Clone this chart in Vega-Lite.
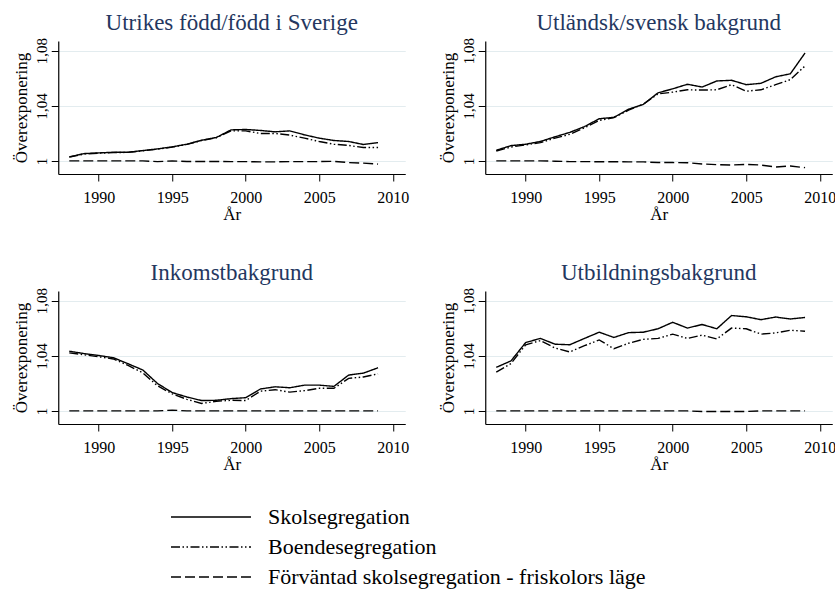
{
"$schema": "https://vega.github.io/schema/vega-lite/v6.json",
"background": "white",
"padding": {"left": 12, "top": 11, "right": 2, "bottom": 0},
"datasets": {
"legend": [
{"series": "Skolsegregation"},
{"series": "Boendesegregation"},
{"series": "Förväntad skolsegregation - friskolors läge"}
],
"main": [
{"panel":"Utrikes född/född i Sverige","series":"Skolsegregation","year":1988,"value":1.0029},
{"panel":"Utrikes född/född i Sverige","series":"Skolsegregation","year":1989,"value":1.0053},
{"panel":"Utrikes född/född i Sverige","series":"Skolsegregation","year":1990,"value":1.0058},
{"panel":"Utrikes född/född i Sverige","series":"Skolsegregation","year":1991,"value":1.0063},
{"panel":"Utrikes född/född i Sverige","series":"Skolsegregation","year":1992,"value":1.0063},
{"panel":"Utrikes född/född i Sverige","series":"Skolsegregation","year":1993,"value":1.0075},
{"panel":"Utrikes född/född i Sverige","series":"Skolsegregation","year":1994,"value":1.0087},
{"panel":"Utrikes född/född i Sverige","series":"Skolsegregation","year":1995,"value":1.0102},
{"panel":"Utrikes född/född i Sverige","series":"Skolsegregation","year":1996,"value":1.0121},
{"panel":"Utrikes född/född i Sverige","series":"Skolsegregation","year":1997,"value":1.015},
{"panel":"Utrikes född/född i Sverige","series":"Skolsegregation","year":1998,"value":1.017},
{"panel":"Utrikes född/född i Sverige","series":"Skolsegregation","year":1999,"value":1.0225},
{"panel":"Utrikes född/född i Sverige","series":"Skolsegregation","year":2000,"value":1.0228},
{"panel":"Utrikes född/född i Sverige","series":"Skolsegregation","year":2001,"value":1.0221},
{"panel":"Utrikes född/född i Sverige","series":"Skolsegregation","year":2002,"value":1.0211},
{"panel":"Utrikes född/född i Sverige","series":"Skolsegregation","year":2003,"value":1.0218},
{"panel":"Utrikes född/född i Sverige","series":"Skolsegregation","year":2004,"value":1.0189},
{"panel":"Utrikes född/född i Sverige","series":"Skolsegregation","year":2005,"value":1.0165},
{"panel":"Utrikes född/född i Sverige","series":"Skolsegregation","year":2006,"value":1.0148},
{"panel":"Utrikes född/född i Sverige","series":"Skolsegregation","year":2007,"value":1.0141},
{"panel":"Utrikes född/född i Sverige","series":"Skolsegregation","year":2008,"value":1.0119},
{"panel":"Utrikes född/född i Sverige","series":"Skolsegregation","year":2009,"value":1.0133},
{"panel":"Utrikes född/född i Sverige","series":"Boendesegregation","year":1988,"value":1.0027},
{"panel":"Utrikes född/född i Sverige","series":"Boendesegregation","year":1989,"value":1.005},
{"panel":"Utrikes född/född i Sverige","series":"Boendesegregation","year":1990,"value":1.0056},
{"panel":"Utrikes född/född i Sverige","series":"Boendesegregation","year":1991,"value":1.006},
{"panel":"Utrikes född/född i Sverige","series":"Boendesegregation","year":1992,"value":1.0062},
{"panel":"Utrikes född/född i Sverige","series":"Boendesegregation","year":1993,"value":1.0073},
{"panel":"Utrikes född/född i Sverige","series":"Boendesegregation","year":1994,"value":1.0085},
{"panel":"Utrikes född/född i Sverige","series":"Boendesegregation","year":1995,"value":1.01},
{"panel":"Utrikes född/född i Sverige","series":"Boendesegregation","year":1996,"value":1.012},
{"panel":"Utrikes född/född i Sverige","series":"Boendesegregation","year":1997,"value":1.0148},
{"panel":"Utrikes född/född i Sverige","series":"Boendesegregation","year":1998,"value":1.0168},
{"panel":"Utrikes född/född i Sverige","series":"Boendesegregation","year":1999,"value":1.0218},
{"panel":"Utrikes född/född i Sverige","series":"Boendesegregation","year":2000,"value":1.0218},
{"panel":"Utrikes född/född i Sverige","series":"Boendesegregation","year":2001,"value":1.0199},
{"panel":"Utrikes född/född i Sverige","series":"Boendesegregation","year":2002,"value":1.0199},
{"panel":"Utrikes född/född i Sverige","series":"Boendesegregation","year":2003,"value":1.0187},
{"panel":"Utrikes född/född i Sverige","series":"Boendesegregation","year":2004,"value":1.0165},
{"panel":"Utrikes född/född i Sverige","series":"Boendesegregation","year":2005,"value":1.0141},
{"panel":"Utrikes född/född i Sverige","series":"Boendesegregation","year":2006,"value":1.0121},
{"panel":"Utrikes född/född i Sverige","series":"Boendesegregation","year":2007,"value":1.0112},
{"panel":"Utrikes född/född i Sverige","series":"Boendesegregation","year":2008,"value":1.0097},
{"panel":"Utrikes född/född i Sverige","series":"Boendesegregation","year":2009,"value":1.0097},
{"panel":"Utrikes född/född i Sverige","series":"Förväntad skolsegregation - friskolors läge","year":1988,"value":1.0},
{"panel":"Utrikes född/född i Sverige","series":"Förväntad skolsegregation - friskolors läge","year":1989,"value":1.0},
{"panel":"Utrikes född/född i Sverige","series":"Förväntad skolsegregation - friskolors läge","year":1990,"value":1.0},
{"panel":"Utrikes född/född i Sverige","series":"Förväntad skolsegregation - friskolors läge","year":1991,"value":1.0},
{"panel":"Utrikes född/född i Sverige","series":"Förväntad skolsegregation - friskolors läge","year":1992,"value":1.0},
{"panel":"Utrikes född/född i Sverige","series":"Förväntad skolsegregation - friskolors läge","year":1993,"value":1.0},
{"panel":"Utrikes född/född i Sverige","series":"Förväntad skolsegregation - friskolors läge","year":1994,"value":0.9995},
{"panel":"Utrikes född/född i Sverige","series":"Förväntad skolsegregation - friskolors läge","year":1995,"value":1.0},
{"panel":"Utrikes född/född i Sverige","series":"Förväntad skolsegregation - friskolors läge","year":1996,"value":0.9996},
{"panel":"Utrikes född/född i Sverige","series":"Förväntad skolsegregation - friskolors läge","year":1997,"value":0.9996},
{"panel":"Utrikes född/född i Sverige","series":"Förväntad skolsegregation - friskolors läge","year":1998,"value":0.9996},
{"panel":"Utrikes född/född i Sverige","series":"Förväntad skolsegregation - friskolors läge","year":1999,"value":0.9995},
{"panel":"Utrikes född/född i Sverige","series":"Förväntad skolsegregation - friskolors läge","year":2000,"value":0.9995},
{"panel":"Utrikes född/född i Sverige","series":"Förväntad skolsegregation - friskolors läge","year":2001,"value":0.9993},
{"panel":"Utrikes född/född i Sverige","series":"Förväntad skolsegregation - friskolors läge","year":2002,"value":0.9993},
{"panel":"Utrikes född/född i Sverige","series":"Förväntad skolsegregation - friskolors läge","year":2003,"value":0.9995},
{"panel":"Utrikes född/född i Sverige","series":"Förväntad skolsegregation - friskolors läge","year":2004,"value":0.9995},
{"panel":"Utrikes född/född i Sverige","series":"Förväntad skolsegregation - friskolors läge","year":2005,"value":0.9995},
{"panel":"Utrikes född/född i Sverige","series":"Förväntad skolsegregation - friskolors läge","year":2006,"value":0.9997},
{"panel":"Utrikes född/född i Sverige","series":"Förväntad skolsegregation - friskolors läge","year":2007,"value":0.9988},
{"panel":"Utrikes född/född i Sverige","series":"Förväntad skolsegregation - friskolors läge","year":2008,"value":0.9984},
{"panel":"Utrikes född/född i Sverige","series":"Förväntad skolsegregation - friskolors läge","year":2009,"value":0.9977},
{"panel":"Utländsk/svensk bakgrund","series":"Skolsegregation","year":1988,"value":1.0077},
{"panel":"Utländsk/svensk bakgrund","series":"Skolsegregation","year":1989,"value":1.0111},
{"panel":"Utländsk/svensk bakgrund","series":"Skolsegregation","year":1990,"value":1.0121},
{"panel":"Utländsk/svensk bakgrund","series":"Skolsegregation","year":1991,"value":1.0141},
{"panel":"Utländsk/svensk bakgrund","series":"Skolsegregation","year":1992,"value":1.0175},
{"panel":"Utländsk/svensk bakgrund","series":"Skolsegregation","year":1993,"value":1.0207},
{"panel":"Utländsk/svensk bakgrund","series":"Skolsegregation","year":1994,"value":1.0249},
{"panel":"Utländsk/svensk bakgrund","series":"Skolsegregation","year":1995,"value":1.0306},
{"panel":"Utländsk/svensk bakgrund","series":"Skolsegregation","year":1996,"value":1.0316},
{"panel":"Utländsk/svensk bakgrund","series":"Skolsegregation","year":1997,"value":1.0375},
{"panel":"Utländsk/svensk bakgrund","series":"Skolsegregation","year":1998,"value":1.041},
{"panel":"Utländsk/svensk bakgrund","series":"Skolsegregation","year":1999,"value":1.0494},
{"panel":"Utländsk/svensk bakgrund","series":"Skolsegregation","year":2000,"value":1.0523},
{"panel":"Utländsk/svensk bakgrund","series":"Skolsegregation","year":2001,"value":1.0556},
{"panel":"Utländsk/svensk bakgrund","series":"Skolsegregation","year":2002,"value":1.0536},
{"panel":"Utländsk/svensk bakgrund","series":"Skolsegregation","year":2003,"value":1.058},
{"panel":"Utländsk/svensk bakgrund","series":"Skolsegregation","year":2004,"value":1.0585},
{"panel":"Utländsk/svensk bakgrund","series":"Skolsegregation","year":2005,"value":1.0553},
{"panel":"Utländsk/svensk bakgrund","series":"Skolsegregation","year":2006,"value":1.0563},
{"panel":"Utländsk/svensk bakgrund","series":"Skolsegregation","year":2007,"value":1.061},
{"panel":"Utländsk/svensk bakgrund","series":"Skolsegregation","year":2008,"value":1.0632},
{"panel":"Utländsk/svensk bakgrund","series":"Skolsegregation","year":2009,"value":1.0783},
{"panel":"Utländsk/svensk bakgrund","series":"Boendesegregation","year":1988,"value":1.0072},
{"panel":"Utländsk/svensk bakgrund","series":"Boendesegregation","year":1989,"value":1.0101},
{"panel":"Utländsk/svensk bakgrund","series":"Boendesegregation","year":1990,"value":1.0116},
{"panel":"Utländsk/svensk bakgrund","series":"Boendesegregation","year":1991,"value":1.0133},
{"panel":"Utländsk/svensk bakgrund","series":"Boendesegregation","year":1992,"value":1.0165},
{"panel":"Utländsk/svensk bakgrund","series":"Boendesegregation","year":1993,"value":1.0193},
{"panel":"Utländsk/svensk bakgrund","series":"Boendesegregation","year":1994,"value":1.024},
{"panel":"Utländsk/svensk bakgrund","series":"Boendesegregation","year":1995,"value":1.0294},
{"panel":"Utländsk/svensk bakgrund","series":"Boendesegregation","year":1996,"value":1.0314},
{"panel":"Utländsk/svensk bakgrund","series":"Boendesegregation","year":1997,"value":1.0368},
{"panel":"Utländsk/svensk bakgrund","series":"Boendesegregation","year":1998,"value":1.0412},
{"panel":"Utländsk/svensk bakgrund","series":"Boendesegregation","year":1999,"value":1.0486},
{"panel":"Utländsk/svensk bakgrund","series":"Boendesegregation","year":2000,"value":1.0499},
{"panel":"Utländsk/svensk bakgrund","series":"Boendesegregation","year":2001,"value":1.0516},
{"panel":"Utländsk/svensk bakgrund","series":"Boendesegregation","year":2002,"value":1.0514},
{"panel":"Utländsk/svensk bakgrund","series":"Boendesegregation","year":2003,"value":1.0516},
{"panel":"Utländsk/svensk bakgrund","series":"Boendesegregation","year":2004,"value":1.0553},
{"panel":"Utländsk/svensk bakgrund","series":"Boendesegregation","year":2005,"value":1.0506},
{"panel":"Utländsk/svensk bakgrund","series":"Boendesegregation","year":2006,"value":1.0516},
{"panel":"Utländsk/svensk bakgrund","series":"Boendesegregation","year":2007,"value":1.0553},
{"panel":"Utländsk/svensk bakgrund","series":"Boendesegregation","year":2008,"value":1.059},
{"panel":"Utländsk/svensk bakgrund","series":"Boendesegregation","year":2009,"value":1.0689},
{"panel":"Utländsk/svensk bakgrund","series":"Förväntad skolsegregation - friskolors läge","year":1988,"value":1.0},
{"panel":"Utländsk/svensk bakgrund","series":"Förväntad skolsegregation - friskolors läge","year":1989,"value":1.0},
{"panel":"Utländsk/svensk bakgrund","series":"Förväntad skolsegregation - friskolors läge","year":1990,"value":1.0},
{"panel":"Utländsk/svensk bakgrund","series":"Förväntad skolsegregation - friskolors läge","year":1991,"value":1.0},
{"panel":"Utländsk/svensk bakgrund","series":"Förväntad skolsegregation - friskolors läge","year":1992,"value":0.9998},
{"panel":"Utländsk/svensk bakgrund","series":"Förväntad skolsegregation - friskolors läge","year":1993,"value":0.9995},
{"panel":"Utländsk/svensk bakgrund","series":"Förväntad skolsegregation - friskolors läge","year":1994,"value":0.9995},
{"panel":"Utländsk/svensk bakgrund","series":"Förväntad skolsegregation - friskolors läge","year":1995,"value":0.9994},
{"panel":"Utländsk/svensk bakgrund","series":"Förväntad skolsegregation - friskolors läge","year":1996,"value":0.9994},
{"panel":"Utländsk/svensk bakgrund","series":"Förväntad skolsegregation - friskolors läge","year":1997,"value":0.9993},
{"panel":"Utländsk/svensk bakgrund","series":"Förväntad skolsegregation - friskolors läge","year":1998,"value":0.9993},
{"panel":"Utländsk/svensk bakgrund","series":"Förväntad skolsegregation - friskolors läge","year":1999,"value":0.9988},
{"panel":"Utländsk/svensk bakgrund","series":"Förväntad skolsegregation - friskolors läge","year":2000,"value":0.9988},
{"panel":"Utländsk/svensk bakgrund","series":"Förväntad skolsegregation - friskolors läge","year":2001,"value":0.9987},
{"panel":"Utländsk/svensk bakgrund","series":"Förväntad skolsegregation - friskolors läge","year":2002,"value":0.9978},
{"panel":"Utländsk/svensk bakgrund","series":"Förväntad skolsegregation - friskolors läge","year":2003,"value":0.9973},
{"panel":"Utländsk/svensk bakgrund","series":"Förväntad skolsegregation - friskolors läge","year":2004,"value":0.997},
{"panel":"Utländsk/svensk bakgrund","series":"Förväntad skolsegregation - friskolors läge","year":2005,"value":0.9975},
{"panel":"Utländsk/svensk bakgrund","series":"Förväntad skolsegregation - friskolors läge","year":2006,"value":0.997},
{"panel":"Utländsk/svensk bakgrund","series":"Förväntad skolsegregation - friskolors läge","year":2007,"value":0.9956},
{"panel":"Utländsk/svensk bakgrund","series":"Förväntad skolsegregation - friskolors läge","year":2008,"value":0.9963},
{"panel":"Utländsk/svensk bakgrund","series":"Förväntad skolsegregation - friskolors läge","year":2009,"value":0.9951},
{"panel":"Inkomstbakgrund","series":"Skolsegregation","year":1988,"value":1.0433},
{"panel":"Inkomstbakgrund","series":"Skolsegregation","year":1989,"value":1.0416},
{"panel":"Inkomstbakgrund","series":"Skolsegregation","year":1990,"value":1.0402},
{"panel":"Inkomstbakgrund","series":"Skolsegregation","year":1991,"value":1.0386},
{"panel":"Inkomstbakgrund","series":"Skolsegregation","year":1992,"value":1.0342},
{"panel":"Inkomstbakgrund","series":"Skolsegregation","year":1993,"value":1.0297},
{"panel":"Inkomstbakgrund","series":"Skolsegregation","year":1994,"value":1.0199},
{"panel":"Inkomstbakgrund","series":"Skolsegregation","year":1995,"value":1.0133},
{"panel":"Inkomstbakgrund","series":"Skolsegregation","year":1996,"value":1.0101},
{"panel":"Inkomstbakgrund","series":"Skolsegregation","year":1997,"value":1.0075},
{"panel":"Inkomstbakgrund","series":"Skolsegregation","year":1998,"value":1.0077},
{"panel":"Inkomstbakgrund","series":"Skolsegregation","year":1999,"value":1.0089},
{"panel":"Inkomstbakgrund","series":"Skolsegregation","year":2000,"value":1.0096},
{"panel":"Inkomstbakgrund","series":"Skolsegregation","year":2001,"value":1.0159},
{"panel":"Inkomstbakgrund","series":"Skolsegregation","year":2002,"value":1.0175},
{"panel":"Inkomstbakgrund","series":"Skolsegregation","year":2003,"value":1.0168},
{"panel":"Inkomstbakgrund","series":"Skolsegregation","year":2004,"value":1.0187},
{"panel":"Inkomstbakgrund","series":"Skolsegregation","year":2005,"value":1.0187},
{"panel":"Inkomstbakgrund","series":"Skolsegregation","year":2006,"value":1.0178},
{"panel":"Inkomstbakgrund","series":"Skolsegregation","year":2007,"value":1.026},
{"panel":"Inkomstbakgrund","series":"Skolsegregation","year":2008,"value":1.0274},
{"panel":"Inkomstbakgrund","series":"Skolsegregation","year":2009,"value":1.0313},
{"panel":"Inkomstbakgrund","series":"Boendesegregation","year":1988,"value":1.0421},
{"panel":"Inkomstbakgrund","series":"Boendesegregation","year":1989,"value":1.0407},
{"panel":"Inkomstbakgrund","series":"Boendesegregation","year":1990,"value":1.0393},
{"panel":"Inkomstbakgrund","series":"Boendesegregation","year":1991,"value":1.0377},
{"panel":"Inkomstbakgrund","series":"Boendesegregation","year":1992,"value":1.033},
{"panel":"Inkomstbakgrund","series":"Boendesegregation","year":1993,"value":1.0276},
{"panel":"Inkomstbakgrund","series":"Boendesegregation","year":1994,"value":1.0182},
{"panel":"Inkomstbakgrund","series":"Boendesegregation","year":1995,"value":1.0124},
{"panel":"Inkomstbakgrund","series":"Boendesegregation","year":1996,"value":1.0084},
{"panel":"Inkomstbakgrund","series":"Boendesegregation","year":1997,"value":1.0054},
{"panel":"Inkomstbakgrund","series":"Boendesegregation","year":1998,"value":1.007},
{"panel":"Inkomstbakgrund","series":"Boendesegregation","year":1999,"value":1.0077},
{"panel":"Inkomstbakgrund","series":"Boendesegregation","year":2000,"value":1.0075},
{"panel":"Inkomstbakgrund","series":"Boendesegregation","year":2001,"value":1.0143},
{"panel":"Inkomstbakgrund","series":"Boendesegregation","year":2002,"value":1.0154},
{"panel":"Inkomstbakgrund","series":"Boendesegregation","year":2003,"value":1.0136},
{"panel":"Inkomstbakgrund","series":"Boendesegregation","year":2004,"value":1.0147},
{"panel":"Inkomstbakgrund","series":"Boendesegregation","year":2005,"value":1.0164},
{"panel":"Inkomstbakgrund","series":"Boendesegregation","year":2006,"value":1.0164},
{"panel":"Inkomstbakgrund","series":"Boendesegregation","year":2007,"value":1.0236},
{"panel":"Inkomstbakgrund","series":"Boendesegregation","year":2008,"value":1.0246},
{"panel":"Inkomstbakgrund","series":"Boendesegregation","year":2009,"value":1.0269},
{"panel":"Inkomstbakgrund","series":"Förväntad skolsegregation - friskolors läge","year":1988,"value":1.0},
{"panel":"Inkomstbakgrund","series":"Förväntad skolsegregation - friskolors läge","year":1989,"value":1.0},
{"panel":"Inkomstbakgrund","series":"Förväntad skolsegregation - friskolors läge","year":1990,"value":1.0},
{"panel":"Inkomstbakgrund","series":"Förväntad skolsegregation - friskolors läge","year":1991,"value":1.0},
{"panel":"Inkomstbakgrund","series":"Förväntad skolsegregation - friskolors läge","year":1992,"value":1.0},
{"panel":"Inkomstbakgrund","series":"Förväntad skolsegregation - friskolors läge","year":1993,"value":1.0},
{"panel":"Inkomstbakgrund","series":"Förväntad skolsegregation - friskolors läge","year":1994,"value":1.0},
{"panel":"Inkomstbakgrund","series":"Förväntad skolsegregation - friskolors läge","year":1995,"value":1.0006},
{"panel":"Inkomstbakgrund","series":"Förväntad skolsegregation - friskolors läge","year":1996,"value":1.0},
{"panel":"Inkomstbakgrund","series":"Förväntad skolsegregation - friskolors läge","year":1997,"value":1.0},
{"panel":"Inkomstbakgrund","series":"Förväntad skolsegregation - friskolors läge","year":1998,"value":1.0},
{"panel":"Inkomstbakgrund","series":"Förväntad skolsegregation - friskolors läge","year":1999,"value":1.0},
{"panel":"Inkomstbakgrund","series":"Förväntad skolsegregation - friskolors läge","year":2000,"value":1.0},
{"panel":"Inkomstbakgrund","series":"Förväntad skolsegregation - friskolors läge","year":2001,"value":1.0},
{"panel":"Inkomstbakgrund","series":"Förväntad skolsegregation - friskolors läge","year":2002,"value":1.0},
{"panel":"Inkomstbakgrund","series":"Förväntad skolsegregation - friskolors läge","year":2003,"value":1.0},
{"panel":"Inkomstbakgrund","series":"Förväntad skolsegregation - friskolors läge","year":2004,"value":1.0},
{"panel":"Inkomstbakgrund","series":"Förväntad skolsegregation - friskolors läge","year":2005,"value":1.0},
{"panel":"Inkomstbakgrund","series":"Förväntad skolsegregation - friskolors läge","year":2006,"value":1.0},
{"panel":"Inkomstbakgrund","series":"Förväntad skolsegregation - friskolors läge","year":2007,"value":1.0},
{"panel":"Inkomstbakgrund","series":"Förväntad skolsegregation - friskolors läge","year":2008,"value":1.0},
{"panel":"Inkomstbakgrund","series":"Förväntad skolsegregation - friskolors läge","year":2009,"value":1.0},
{"panel":"Utbildningsbakgrund","series":"Skolsegregation","year":1988,"value":1.0316},
{"panel":"Utbildningsbakgrund","series":"Skolsegregation","year":1989,"value":1.0363},
{"panel":"Utbildningsbakgrund","series":"Skolsegregation","year":1990,"value":1.0496},
{"panel":"Utbildningsbakgrund","series":"Skolsegregation","year":1991,"value":1.0526},
{"panel":"Utbildningsbakgrund","series":"Skolsegregation","year":1992,"value":1.0484},
{"panel":"Utbildningsbakgrund","series":"Skolsegregation","year":1993,"value":1.048},
{"panel":"Utbildningsbakgrund","series":"Skolsegregation","year":1994,"value":1.0526},
{"panel":"Utbildningsbakgrund","series":"Skolsegregation","year":1995,"value":1.0571},
{"panel":"Utbildningsbakgrund","series":"Skolsegregation","year":1996,"value":1.0533},
{"panel":"Utbildningsbakgrund","series":"Skolsegregation","year":1997,"value":1.0568},
{"panel":"Utbildningsbakgrund","series":"Skolsegregation","year":1998,"value":1.0571},
{"panel":"Utbildningsbakgrund","series":"Skolsegregation","year":1999,"value":1.0596},
{"panel":"Utbildningsbakgrund","series":"Skolsegregation","year":2000,"value":1.0643},
{"panel":"Utbildningsbakgrund","series":"Skolsegregation","year":2001,"value":1.0601},
{"panel":"Utbildningsbakgrund","series":"Skolsegregation","year":2002,"value":1.0627},
{"panel":"Utbildningsbakgrund","series":"Skolsegregation","year":2003,"value":1.0596},
{"panel":"Utbildningsbakgrund","series":"Skolsegregation","year":2004,"value":1.0692},
{"panel":"Utbildningsbakgrund","series":"Skolsegregation","year":2005,"value":1.0683},
{"panel":"Utbildningsbakgrund","series":"Skolsegregation","year":2006,"value":1.0662},
{"panel":"Utbildningsbakgrund","series":"Skolsegregation","year":2007,"value":1.0681},
{"panel":"Utbildningsbakgrund","series":"Skolsegregation","year":2008,"value":1.0667},
{"panel":"Utbildningsbakgrund","series":"Skolsegregation","year":2009,"value":1.0678},
{"panel":"Utbildningsbakgrund","series":"Boendesegregation","year":1988,"value":1.0281},
{"panel":"Utbildningsbakgrund","series":"Boendesegregation","year":1989,"value":1.0344},
{"panel":"Utbildningsbakgrund","series":"Boendesegregation","year":1990,"value":1.048},
{"panel":"Utbildningsbakgrund","series":"Boendesegregation","year":1991,"value":1.051},
{"panel":"Utbildningsbakgrund","series":"Boendesegregation","year":1992,"value":1.0456},
{"panel":"Utbildningsbakgrund","series":"Boendesegregation","year":1993,"value":1.0428},
{"panel":"Utbildningsbakgrund","series":"Boendesegregation","year":1994,"value":1.0473},
{"panel":"Utbildningsbakgrund","series":"Boendesegregation","year":1995,"value":1.0515},
{"panel":"Utbildningsbakgrund","series":"Boendesegregation","year":1996,"value":1.0451},
{"panel":"Utbildningsbakgrund","series":"Boendesegregation","year":1997,"value":1.0491},
{"panel":"Utbildningsbakgrund","series":"Boendesegregation","year":1998,"value":1.0519},
{"panel":"Utbildningsbakgrund","series":"Boendesegregation","year":1999,"value":1.0526},
{"panel":"Utbildningsbakgrund","series":"Boendesegregation","year":2000,"value":1.0557},
{"panel":"Utbildningsbakgrund","series":"Boendesegregation","year":2001,"value":1.0526},
{"panel":"Utbildningsbakgrund","series":"Boendesegregation","year":2002,"value":1.055},
{"panel":"Utbildningsbakgrund","series":"Boendesegregation","year":2003,"value":1.0522},
{"panel":"Utbildningsbakgrund","series":"Boendesegregation","year":2004,"value":1.0601},
{"panel":"Utbildningsbakgrund","series":"Boendesegregation","year":2005,"value":1.0596},
{"panel":"Utbildningsbakgrund","series":"Boendesegregation","year":2006,"value":1.0557},
{"panel":"Utbildningsbakgrund","series":"Boendesegregation","year":2007,"value":1.0566},
{"panel":"Utbildningsbakgrund","series":"Boendesegregation","year":2008,"value":1.0585},
{"panel":"Utbildningsbakgrund","series":"Boendesegregation","year":2009,"value":1.0578},
{"panel":"Utbildningsbakgrund","series":"Förväntad skolsegregation - friskolors läge","year":1988,"value":1.0},
{"panel":"Utbildningsbakgrund","series":"Förväntad skolsegregation - friskolors läge","year":1989,"value":1.0},
{"panel":"Utbildningsbakgrund","series":"Förväntad skolsegregation - friskolors läge","year":1990,"value":1.0},
{"panel":"Utbildningsbakgrund","series":"Förväntad skolsegregation - friskolors läge","year":1991,"value":1.0},
{"panel":"Utbildningsbakgrund","series":"Förväntad skolsegregation - friskolors läge","year":1992,"value":1.0},
{"panel":"Utbildningsbakgrund","series":"Förväntad skolsegregation - friskolors läge","year":1993,"value":1.0},
{"panel":"Utbildningsbakgrund","series":"Förväntad skolsegregation - friskolors läge","year":1994,"value":1.0},
{"panel":"Utbildningsbakgrund","series":"Förväntad skolsegregation - friskolors läge","year":1995,"value":1.0},
{"panel":"Utbildningsbakgrund","series":"Förväntad skolsegregation - friskolors läge","year":1996,"value":1.0},
{"panel":"Utbildningsbakgrund","series":"Förväntad skolsegregation - friskolors läge","year":1997,"value":1.0},
{"panel":"Utbildningsbakgrund","series":"Förväntad skolsegregation - friskolors läge","year":1998,"value":1.0},
{"panel":"Utbildningsbakgrund","series":"Förväntad skolsegregation - friskolors läge","year":1999,"value":1.0},
{"panel":"Utbildningsbakgrund","series":"Förväntad skolsegregation - friskolors läge","year":2000,"value":1.0},
{"panel":"Utbildningsbakgrund","series":"Förväntad skolsegregation - friskolors läge","year":2001,"value":1.0},
{"panel":"Utbildningsbakgrund","series":"Förväntad skolsegregation - friskolors läge","year":2002,"value":0.9996},
{"panel":"Utbildningsbakgrund","series":"Förväntad skolsegregation - friskolors läge","year":2003,"value":0.9996},
{"panel":"Utbildningsbakgrund","series":"Förväntad skolsegregation - friskolors läge","year":2004,"value":0.9996},
{"panel":"Utbildningsbakgrund","series":"Förväntad skolsegregation - friskolors läge","year":2005,"value":0.9996},
{"panel":"Utbildningsbakgrund","series":"Förväntad skolsegregation - friskolors läge","year":2006,"value":1.0},
{"panel":"Utbildningsbakgrund","series":"Förväntad skolsegregation - friskolors läge","year":2007,"value":1.0},
{"panel":"Utbildningsbakgrund","series":"Förväntad skolsegregation - friskolors läge","year":2008,"value":1.0},
{"panel":"Utbildningsbakgrund","series":"Förväntad skolsegregation - friskolors läge","year":2009,"value":1.0}
]
},
"config": {
"view": {"stroke": null},
"font": "Liberation Serif",
"axis": {
"labelFont": "Liberation Serif", "titleFont": "Liberation Serif",
"labelColor": "black", "titleColor": "black", "titleFontWeight": "normal",
"domainColor": "black", "tickColor": "black", "tickSize": 7, "domainWidth": 1.2, "tickWidth": 1,
"gridColor": "#e3ecef", "gridWidth": 1.2
}
},
"center": true,
"spacing": 30,
"vconcat": [
{
"data": {"name": "main"},
"columns": 2,
"spacing": {"row": 39, "column": 30},
"facet": {
"field": "panel", "type": "nominal", "title": null,
"sort": ["Utrikes född/född i Sverige", "Utländsk/svensk bakgrund", "Inkomstbakgrund", "Utbildningsbakgrund"],
"header": {"labelFontSize": 23, "labelFont": "Liberation Serif", "labelColor": "#24375f", "labelPadding": 3}
},
"resolve": {"axis": {"x": "independent", "y": "independent"}},
"spec": {
"width": 347, "height": 133,
"mark": {"type": "line", "strokeWidth": 1.4, "color": "black"},
"encoding": {
"x": {"field": "year", "type": "quantitative",
"scale": {"domain": [1987.25, 2010.85], "nice": false, "zero": false},
"axis": {"title": "År", "values": [1990, 1995, 2000, 2005, 2010], "format": "d", "grid": false, "labelFontSize": 16, "titleFontSize": 17, "labelPadding": 8, "titlePadding": 1, "labelFlush": false}},
"y": {"field": "value", "type": "quantitative",
"scale": {"domain": [0.9905, 1.087], "nice": false, "zero": false},
"axis": {"title": "Överexponering", "values": [1, 1.04, 1.08], "grid": true, "labelAngle": -90, "labelAlign": "center", "labelBaseline": "bottom", "labelFontSize": 15, "titleFontSize": 17, "labelPadding": 2, "titlePadding": 4,
"labelExpr": "datum.value == 1 ? '1' : replace(format(datum.value, '.2f'), '.', ',')"}},
"strokeDash": {"field": "series", "type": "nominal", "legend": null,
"scale": {"domain": ["Skolsegregation", "Boendesegregation", "Förväntad skolsegregation - friskolors läge"], "range": [[1, 0], [9, 2.5, 1.5, 2.5, 1.5, 2.5], [10, 4]]}}
}
}
},
{
"data": {"name": "legend"},
"width": 552, "height": 90,
"encoding": {
"y": {"field": "series", "type": "nominal", "axis": null,
"scale": {"type": "point", "padding": 0.5, "domain": ["Skolsegregation", "Boendesegregation", "Förväntad skolsegregation - friskolors läge"]}}
},
"layer": [
{
"mark": {"type": "rule", "strokeWidth": 1.4, "color": "black"},
"encoding": {
"x": {"datum": 0, "type": "quantitative", "scale": {"domain": [0, 100], "nice": false}, "axis": null},
"x2": {"datum": 14.49},
"strokeDash": {"field": "series", "type": "nominal", "legend": null,
"scale": {"domain": ["Skolsegregation", "Boendesegregation", "Förväntad skolsegregation - friskolors läge"], "range": [[1, 0], [9, 2.5, 1.5, 2.5, 1.5, 2.5], [10, 4]]}}
}
},
{
"mark": {"type": "text", "align": "left", "baseline": "middle", "fontSize": 22, "font": "Liberation Serif", "color": "black"},
"encoding": {
"x": {"datum": 17.57, "type": "quantitative"},
"text": {"field": "series", "type": "nominal"}
}
}
]
}
]
}
